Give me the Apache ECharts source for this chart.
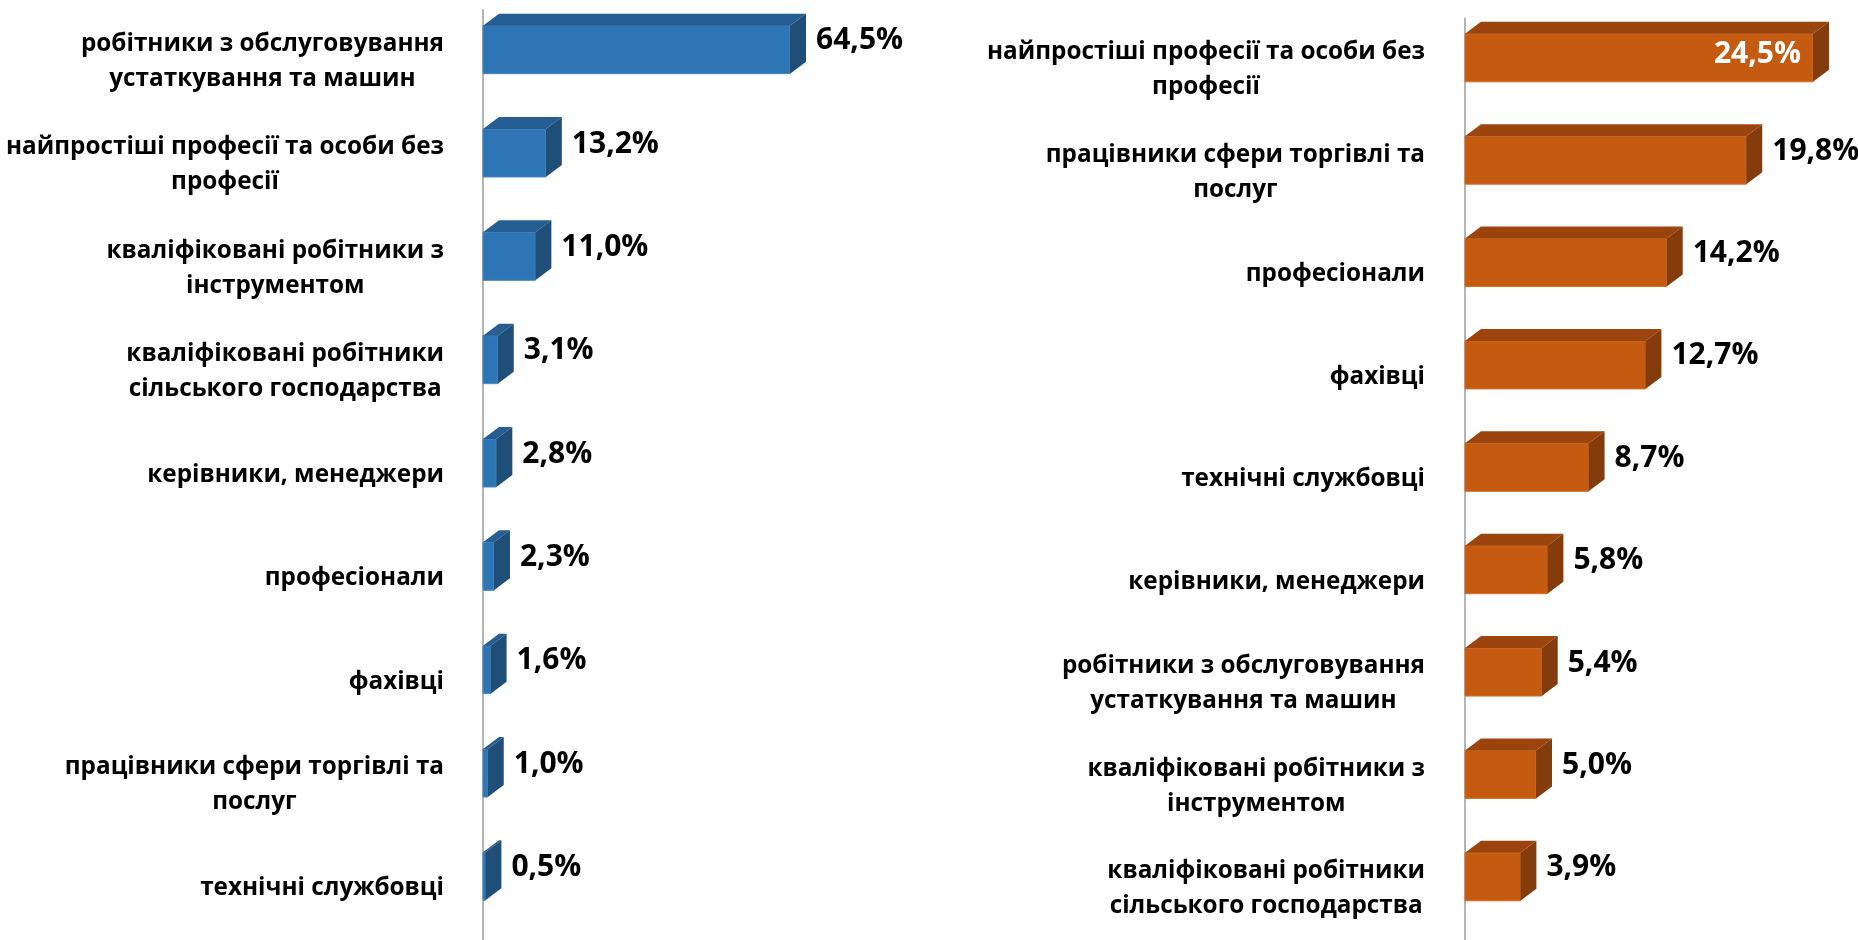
<!DOCTYPE html>
<html><head><meta charset="utf-8">
<script src="https://cdn.jsdelivr.net/npm/echarts@6/dist/echarts.min.js"></script>
<style>html,body{margin:0;padding:0;background:#fff}#c{width:1858px;height:940px}</style>
</head><body><div id="c"></div>
<script>
const leftCategories = [
  "робітники з обслуговування\nустаткування та машин",
  "найпростіші професії та особи без\nпрофесії",
  "кваліфіковані робітники з\nінструментом",
  "кваліфіковані робітники\nсільського господарства",
  "керівники, менеджери",
  "професіонали",
  "фахівці",
  "працівники сфери торгівлі та\nпослуг",
  "технічні службовці"
];
const leftValues = [64.5, 13.2, 11.0, 3.1, 2.8, 2.3, 1.6, 1.0, 0.5];

const rightCategories = [
  "найпростіші професії та особи без\nпрофесії",
  "працівники сфери торгівлі та\nпослуг",
  "професіонали",
  "фахівці",
  "технічні службовці",
  "керівники, менеджери",
  "робітники з обслуговування\nустаткування та машин",
  "кваліфіковані робітники з\nінструментом",
  "кваліфіковані робітники\nсільського господарства"
];
const rightValues = [24.5, 19.8, 14.2, 12.7, 8.7, 5.8, 5.4, 5.0, 3.9];

const FONT = "'Open Sans', 'Noto Sans', sans-serif";
const fmt = v => v.toFixed(1).replace('.', ',') + '%';

function make3D(colors, insideFirst) {
  return function (params, api) {
    const v = api.value(0), c = api.value(1);
    const p0 = api.coord([0, c]);
    const p1 = api.coord([v, c]);
    const shift = -12, h = 48, dx = 16, dy = 12;
    const cy = p0[1] + shift;
    const x0 = p0[0], x1 = p1[0];
    const yt = cy - h / 2, yb = cy + h / 2;
    const children = [
      { type: 'polygon', shape: { points: [[x0 + dx, yt - dy], [x1 + dx, yt - dy], [x1 + dx, yb - dy], [x0 + dx, yb - dy]] },
        style: { fill: 'rgba(255,255,255,0.01)', shadowBlur: 6, shadowColor: 'rgba(0,0,0,0.45)', shadowOffsetX: -3, shadowOffsetY: 0 } },
      { type: 'rect', shape: { x: x0, y: yt, width: x1 - x0, height: h }, style: { fill: colors[0], stroke: colors[3], lineWidth: 1 } },
      { type: 'polygon', shape: { points: [[x0, yt], [x0 + dx, yt - dy], [x1 + dx, yt - dy], [x1, yt]] }, style: { fill: colors[1] } },
      { type: 'polygon', shape: { points: [[x1, yt], [x1 + dx, yt - dy], [x1 + dx, yb - dy], [x1, yb]] }, style: { fill: colors[2] } }
    ];
    const inside = insideFirst && params.dataIndex === 0;
    children.push({
      type: 'text',
      style: {
        x: inside ? x1 - 12 : x1 + dx + 10,
        y: inside ? cy - 3 : cy - 9,
        text: fmt(v),
        fill: inside ? '#ffffff' : '#000000',
        font: 'bold 30px ' + FONT,
        align: inside ? 'right' : 'left',
        verticalAlign: 'middle'
      }
    });
    return { type: 'group', children };
  };
}

function catLabel(margin) {
  return {
    margin: margin,
    align: 'right',
    formatter: s => s.split('\n').map(l => '{c|' + l + '}').join('\n'),
    rich: { c: { align: 'center', fontFamily: FONT, fontWeight: 'bold', fontSize: 24.3, color: '#000', lineHeight: 35 } }
  };
}

const chart = echarts.init(document.getElementById('c'), null, { renderer: 'canvas' });
chart.setOption({
  animation: false,
  backgroundColor: '#ffffff',
  grid: [
    { left: 483, top: 10, width: 333.2, height: 934 },
    { left: 1465, top: 18.6, width: 355.1, height: 925 }
  ],
  xAxis: [
    { gridIndex: 0, type: 'value', min: 0, max: 70, show: false },
    { gridIndex: 1, type: 'value', min: 0, max: 25, show: false }
  ],
  yAxis: [
    { gridIndex: 0, type: 'category', inverse: true, data: leftCategories, offset: 14,
      axisLine: { show: true, lineStyle: { color: '#b4b4b4', width: 2 } }, axisTick: { show: false },
      axisLabel: catLabel(25) },
    { gridIndex: 1, type: 'category', inverse: true, data: rightCategories, offset: 13,
      axisLine: { show: true, lineStyle: { color: '#b4b4b4', width: 2 } }, axisTick: { show: false },
      axisLabel: catLabel(27) }
  ],
  series: [
    { type: 'custom', xAxisIndex: 0, yAxisIndex: 0, encode: { x: 0, y: 1 },
      data: leftValues.map((v, i) => [v, i]),
      renderItem: make3D(['#2E75B6', '#255E92', '#1F4E79', '#4a88c2'], false) },
    { type: 'custom', xAxisIndex: 1, yAxisIndex: 1, encode: { x: 0, y: 1 },
      data: rightValues.map((v, i) => [v, i]),
      renderItem: make3D(['#C55A11', '#9B440D', '#843C0C', '#d0702c'], true) }
  ]
});
</script></body></html>
